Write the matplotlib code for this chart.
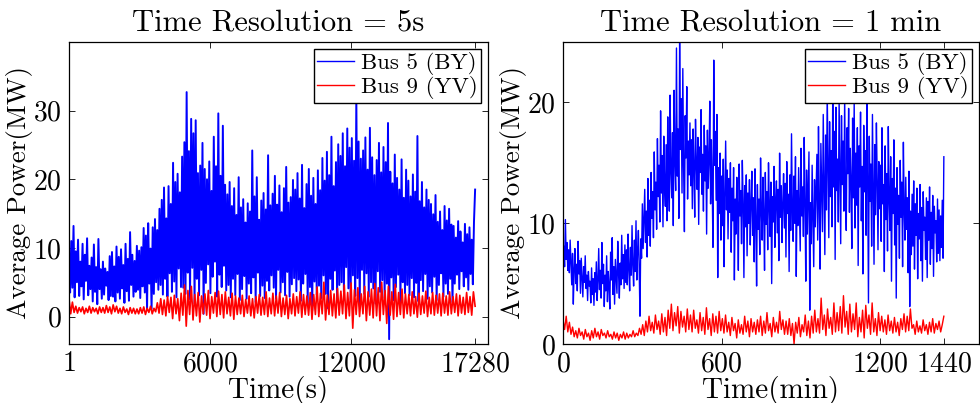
import matplotlib
matplotlib.use("Agg")
import matplotlib.pyplot as plt
import numpy as np

# Bus 5 (BY), 5 s resolution (peak/trough pairs)
bus5_5s = [
    7.0, 3.5, 11.0, 4.2, 13.2, 2.8, 9.5, 5.0, 11.2, 3.0, 8.0, 4.4, 10.6, 2.5, 9.0, 5.2, 11.4, 3.1, 7.4, 4.0,
    8.6, 2.2, 10.5, 3.6, 7.2, 1.8, 11.3, 4.0, 6.9, 2.6, 8.0, 3.2, 7.0, 4.5, 6.5, 2.4, 8.8, 3.0, 9.4, 2.9,
    7.3, 2.2, 10.2, 3.5, 8.7, 2.6, 9.8, 4.1, 7.5, 2.0, 10.6, 3.7, 8.4, 2.3, 12.3, 4.6, 9.0, 2.9, 8.1, 3.6,
    10.3, 3.9, 9.6, 2.7, 10.1, 4.4, 12.9, 3.5, 11.8, 1.0, 13.6, 4.8, 9.9, 1.1, 13.0, 3.3, 14.2, 5.0, 12.6, 3.9,
    15.7, 4.6, 17.0, 3.2, 18.8, 5.5, 14.3, 2.9, 19.0, 6.3, 16.4, 3.6, 22.4, 5.1, 19.6, 2.8, 20.8, 7.0, 18.1, 4.3,
    23.3, 4.2, 25.4, 3.3, 32.7, 6.4, 24.1, 2.5, 28.8, 7.1, 26.7, 1.9, 28.6, 5.5, 20.9, 3.1, 22.0, 6.8, 25.3, 0.4,
    21.5, 4.9, 20.0, 7.6, 22.6, 3.4, 18.3, 5.8, 26.2, 8.0, 21.9, 2.9, 29.6, 6.1, 20.5, 4.3, 27.8, 7.4, 19.2, 3.8,
    17.8, 4.6, 19.6, 2.8, 16.1, 5.5, 18.7, 3.1, 14.8, 6.2, 20.3, 2.4, 15.9, 4.0, 17.1, 5.9, 13.7, 2.6, 16.5, 4.8,
    15.3, 3.4, 24.2, 5.7, 17.5, 2.1, 20.3, 6.4, 14.1, 3.0, 16.9, 4.5, 18.0, 2.7, 15.6, 5.2, 23.5, 3.8, 16.2, 6.0,
    17.9, 4.2, 20.5, 2.6, 16.3, 6.8, 19.1, 3.5, 15.2, 5.0, 18.7, 3.1, 21.8, 6.5, 16.6, 2.9, 17.4, 4.7, 19.9, 5.6,
    18.5, 3.7, 20.9, 5.4, 17.2, 2.3, 22.1, 4.8, 15.8, 6.2, 19.3, 1.8, 21.5, 4.3, 17.6, 0.9, 20.2, 5.1, 16.4, 3.2,
    21.3, 4.5, 18.4, 2.7, 23.1, 6.0, 19.8, 3.3, 24.0, 1.2, 20.6, 5.5, 26.2, 3.9, 19.0, 6.7, 22.5, 2.2, 25.1, 4.6,
    23.4, 5.0, 26.7, 3.6, 21.9, 7.2, 27.4, 4.1, 24.6, 2.5, 26.0, 6.0, 22.7, 3.0, 32.0, 5.6, 25.5, 1.5, 23.0, 6.8,
    24.2, 3.3, 26.1, 6.3, 21.4, 2.9, 27.5, 5.0, 23.2, 4.1, 20.6, 1.9, 22.8, 6.6, 25.3, 3.6, 21.0, 5.3, 24.7, 2.7,
    22.5, 4.8, 28.2, -3.3, 21.1, 5.7, 19.4, 2.4, 23.6, 4.3, 20.2, 6.1, 18.5, 2.0, 22.9, 5.0, 17.3, 3.4, 21.4, 4.6,
    19.8, 3.1, 17.5, 5.6, 20.7, 2.8, 18.2, 4.9, 26.3, 2.2, 16.8, 5.3, 19.6, 3.7, 15.9, 6.2, 18.5, 2.6, 17.0, 4.4,
    16.4, 3.5, 14.9, 5.8, 17.7, 2.4, 13.8, 4.6, 15.3, 6.3, 12.6, 2.9, 16.1, 4.8, 14.0, 3.3, 15.7, 5.5, 13.4, 2.1,
    13.2, 4.8, 11.5, 6.1, 13.9, 4.0, 12.4, 6.6, 10.8, 4.4, 13.5, 5.7, 12.0, 3.9, 13.0, 6.2, 11.2, 4.7, 13.8, 18.5,
]

# Bus 9 (YV), 5 s resolution
bus9_5s = [
    2.6, 0.4, 2.1, 0.6, 1.5, 0.5, 1.3, 0.7, 1.4, 0.4, 1.2, 0.6, 1.5, 0.5, 1.3, 0.7, 1.2, 0.4, 1.4, 0.6,
    1.3, 0.5, 1.6, 0.6, 1.4, 0.4, 1.7, 0.7, 1.5, 0.5, 1.2, 0.4, 1.4, 0.6, 1.1, 0.3, 1.3, 0.5, 1.2, 0.4,
    1.1, 0.4, 1.3, 0.5, 1.4, 0.3, 1.2, 0.6, 1.5, 0.4, 1.2, 0.7, 2.0, 0.5, 2.6, 0.3, 2.4, 0.1, 2.9, 0.6,
    2.8, -0.3, 3.1, 0.4, 2.6, -0.6, 3.4, 0.2, 4.6, -1.4, 3.8, 0.3, 4.4, -0.5, 3.2, 0.1, 3.5, -0.8, 3.0, 0.4,
    3.3, 0.2, 3.8, -0.3, 2.9, 0.5, 3.5, 0.0, 3.7, 0.3, 3.2, -0.2, 3.6, 0.4, 2.8, 0.1, 3.4, -0.4, 3.0, 0.3,
    2.7, 0.4, 3.1, 0.0, 2.5, 0.5, 3.0, 0.1, 2.6, -0.2, 2.9, 0.5, 3.2, 0.2, 2.8, 0.3, 3.6, 0.0, 2.7, 0.4,
    3.4, 0.1, 3.0, 0.5, 3.5, 0.0, 2.7, 0.3, 3.1, -0.3, 2.6, 0.4, 3.3, 0.1, 2.9, 0.5, 3.6, -0.1, 3.2, 0.3,
    3.0, 0.2, 3.5, -0.4, 3.2, 0.3, 4.3, 0.0, 3.4, 0.4, 5.0, -0.5, 3.1, 0.3, 3.8, 0.1, 3.3, -0.2, 4.1, 0.2,
    3.7, 0.4, 4.6, -0.3, 3.5, 0.1, 4.9, -1.7, 3.9, 0.3, 4.2, 0.0, 3.3, 0.4, 4.4, -0.6, 3.6, 0.2, 4.0, -0.2,
    4.8, 0.1, 4.2, -0.6, 5.0, 0.3, 3.8, -1.0, 4.4, 0.2, 3.6, -0.4, 4.7, 0.0, 3.5, 0.3, 4.0, -0.2, 3.3, 0.4,
    3.2, 0.1, 3.6, 0.4, 2.9, -0.1, 3.4, 0.3, 3.0, 0.5, 3.7, 0.0, 2.8, 0.4, 3.5, 0.2, 3.1, 0.5, 3.3, 0.1,
    3.4, 0.5, 3.0, 0.2, 3.6, 0.4, 2.9, 0.6, 3.3, 0.1, 3.1, 0.5, 2.8, 0.3, 3.5, 0.6, 2.9, 0.2, 3.6, 1.5,
]

# Bus 5 (BY), 1 min resolution (one reading every 3 min)
bus5_1min = [
    7.2, 8.1, 6.4, 10.3, 7.0, 8.4, 6.1, 7.8, 5.9, 8.6, 6.8, 4.9, 7.5, 3.3, 6.2, 7.9, 5.0, 6.6, 4.4, 8.5,
    5.8, 6.9, 4.2, 7.1, 5.5, 3.9, 6.4, 5.1, 7.3, 4.6, 5.7, 3.6, 6.0, 4.8, 5.2, 3.4, 6.3, 4.1, 5.4, 3.2,
    5.9, 4.3, 6.8, 3.6, 5.2, 7.9, 4.5, 6.1, 3.8, 8.4, 5.0, 6.6, 3.1, 5.7, 4.4, 7.3, 3.5, 6.0, 4.8, 2.9,
    7.6, 5.3, 8.8, 4.1, 6.4, 3.3, 7.0, 5.6, 4.2, 8.5, 5.9, 3.8, 6.7, 4.9, 9.0, 5.4, 7.4, 4.6, 8.2, 5.1,
    7.8, 4.9, 9.1, 6.2, 4.4, 8.0, 5.7, 9.8, 6.5, 4.8, 8.6, 6.0, 10.2, 5.3, 7.7, 9.4, 6.3, 2.3, 8.7, 7.1,
    11.6, 7.9, 10.2, 12.8, 8.4, 11.0, 7.2, 13.7, 9.0, 11.9, 8.1, 14.2, 10.4, 12.6, 8.8, 15.9, 11.1, 13.4, 9.5, 17.0,
    12.2, 14.8, 10.1, 19.3, 12.5, 15.6, 9.7, 17.2, 13.0, 11.4, 16.5, 10.2, 18.8, 13.6, 11.0, 20.6, 14.3, 12.1, 17.5, 9.8,
    21.0, 15.2, 12.7, 24.5, 13.9, 17.8, 10.4, 25.0, 16.1, 20.3, 12.5, 22.8, 14.7, 9.3, 18.9, 15.4, 21.3, 12.0, 16.8, 14.0,
    18.3, 13.1, 16.9, 11.2, 17.8, 14.6, 10.5, 18.6, 15.0, 12.8, 17.1, 9.9, 16.3, 14.2, 19.4, 12.4, 15.7, 11.0, 18.1, 13.5,
    16.4, 9.1, 17.7, 12.9, 15.2, 20.1, 11.6, 16.9, 13.3, 8.0, 23.5, 14.8, 17.6, 11.9, 19.0, 5.5, 14.6, 10.8, 15.8, 8.6,
    13.9, 9.8, 15.3, 6.4, 12.2, 16.8, 11.1, 14.4, 8.7, 13.7, 10.9, 15.0, 7.6, 12.9, 10.2, 14.6, 5.3, 12.0, 9.1, 13.8,
    11.4, 6.1, 14.9, 10.6, 12.7, 8.3, 15.2, 11.8, 5.5, 13.1, 9.7, 14.0, 7.3, 12.5, 10.0, 13.6, 8.2, 11.7, 14.3, 9.0,
    12.1, 6.8, 14.5, 10.3, 4.8, 13.2, 9.5, 12.0, 7.4, 15.4, 11.0, 8.6, 13.8, 10.7, 6.1, 14.2, 9.9, 12.6, 7.8, 15.0,
    11.5, 8.9, 13.4, 5.0, 12.2, 10.1, 14.7, 8.0, 11.9, 13.5, 9.2, 12.8, 6.9, 15.8, 10.5, 13.1, 8.4, 11.6, 14.1, 9.6,
    13.3, 7.2, 15.1, 10.8, 12.4, 6.0, 14.0, 9.4, 17.4, 11.3, 8.5, 13.9, 10.0, 15.5, 5.6, 12.7, 9.8, 14.6, 11.2, 7.7,
    16.2, 10.6, 13.0, 8.9, 17.1, 11.8, 5.2, 14.4, 9.1, 12.3, 15.9, 2.8, 11.7, 8.3, 14.8, 10.4, 6.4, 13.6, 9.7, 12.9,
    15.7, 8.6, 18.0, 11.4, 6.2, 16.6, 12.9, 9.3, 19.0, 13.5, 7.4, 17.3, 11.1, 20.9, 14.6, 8.8, 18.4, 12.2, 16.0, 9.7,
    21.0, 13.0, 17.6, 7.0, 19.6, 12.7, 15.3, 10.1, 20.2, 14.4, 8.3, 18.9, 13.2, 16.8, 11.0, 20.5, 12.5, 9.4, 17.9, 14.1,
    19.5, 10.9, 16.2, 13.4, 7.9, 18.7, 12.1, 20.0, 9.6, 15.8, 11.5, 17.9, 6.5, 16.4, 13.0, 19.2, 10.2, 14.7, 5.8, 18.1,
    12.6, 16.0, 9.0, 20.4, 13.9, 3.4, 17.2, 11.8, 14.9, 8.1, 19.0, 12.4, 6.6, 16.5, 10.7, 18.3, 13.6, 7.8, 15.1, 11.2,
    14.8, 8.5, 17.9, 11.6, 13.2, 6.0, 16.4, 10.3, 14.1, 7.7, 18.0, 12.0, 9.4, 15.5, 5.2, 13.7, 10.8, 16.9, 8.2, 12.9,
    3.8, 14.6, 9.9, 12.3, 7.1, 15.2, 10.5, 13.4, 6.4, 16.7, 11.2, 8.6, 13.8, 9.5, 12.1, 5.9, 14.3, 3.1, 11.0, 7.4,
    12.4, 8.1, 13.5, 6.2, 11.6, 9.0, 12.9, 5.4, 10.8, 8.7, 13.2, 6.9, 11.3, 5.2, 12.6, 9.4, 10.5, 7.0, 12.1, 5.5,
    11.8, 8.6, 13.0, 6.6, 10.9, 7.9, 12.3, 5.6, 11.4, 9.2, 10.2, 6.8, 12.0, 7.5, 11.1, 6.9, 10.6, 8.0, 11.9, 7.1,
    15.5,
]

# Bus 9 (YV), 1 min resolution (one reading every 6 min)
bus9_1min = [
    2.0, 1.2, 2.3, 1.0, 1.8, 0.8, 1.4, 0.6, 1.1, 0.5, 1.3, 0.7, 1.0, 0.4, 1.2, 0.6, 0.9, 0.3, 1.1, 0.5,
    1.3, 0.6, 1.0, 0.4, 1.2, 0.7, 0.9, 0.5, 1.1, 0.6, 0.8, 0.4, 1.0, 0.5, 0.9, 0.3, 0.8, 0.5, 1.0, 0.4,
    0.9, 0.5, 0.8, 0.6, 1.1, 0.6, 0.9, 0.7, 1.3, 0.8, 1.6, 0.7, 1.9, 1.0, 2.3, 1.1, 1.8, 0.9, 2.4, 1.2,
    1.9, 0.8, 2.5, 1.0, 2.2, 0.7, 2.8, 1.3, 3.3, 1.1, 2.6, 1.5, 3.1, 0.9, 2.7, 1.4, 2.3, 1.0, 2.9, 1.2,
    2.4, 1.0, 2.8, 1.3, 2.0, 0.9, 2.6, 1.1, 2.2, 0.8, 3.0, 1.2, 2.1, 0.7, 2.5, 1.0, 2.3, 0.9, 2.7, 1.1,
    2.1, 0.9, 2.4, 1.0, 1.8, 0.7, 2.2, 1.1, 1.7, 0.5, 2.0, 0.9, 1.6, 0.8, 2.3, 1.0, 1.9, 0.6, 2.1, 1.0,
    1.8, 0.8, 2.0, 1.0, 2.3, 0.7, 1.9, 0.9, 2.6, 1.1, 1.7, 0.6, 2.2, 1.0, 1.8, 0.9, 2.7, 1.2, 2.0, 0.8,
    1.9, 0.8, 2.1, 0.7, 1.7, 0.0, 1.8, 0.9, 2.2, 0.6, 1.6, 1.0, 2.4, 0.7, 1.9, 0.5, 2.3, 0.9, 2.8, 1.0,
    2.1, 0.9, 3.8, 1.2, 2.4, 0.7, 2.9, 1.3, 2.2, 0.8, 3.4, 1.0, 2.6, 1.1, 3.1, 0.9, 4.0, 1.4, 2.7, 0.8,
    3.3, 1.0, 2.5, 1.2, 3.4, 0.6, 2.2, 1.0, 2.8, 0.5, 3.2, 1.3, 2.4, 0.8, 3.4, 1.0, 2.1, 0.7, 2.6, 1.1,
    2.3, 1.0, 2.0, 0.8, 2.4, 1.1, 1.9, 0.9, 2.2, 1.0, 1.8, 0.7, 2.1, 1.2, 2.5, 1.0, 2.3, 1.1, 2.9, 1.3,
    1.6, 0.8, 1.9, 1.0, 1.5, 0.9, 2.0, 1.1, 1.6, 0.8, 1.8, 1.0, 2.1, 0.9, 1.7, 1.2, 1.9, 1.0, 1.6, 2.3,
]

plt.rcParams["font.family"] = "serif"
plt.rcParams["font.serif"] = ["cmr10"]
plt.rcParams["mathtext.fontset"] = "cm"
plt.rcParams["axes.unicode_minus"] = False
plt.rcParams["axes.formatter.use_mathtext"] = True

FS = 20

fig = plt.figure(figsize=(9.8, 4.03), dpi=100)
ax1 = fig.add_axes([0.0704, 0.1464, 0.4276, 0.7494])
ax2 = fig.add_axes([0.5745, 0.1464, 0.4245, 0.7494])

t_5s = np.linspace(1, 17280, len(bus5_5s))
t_5s_red = np.linspace(1, 17280, len(bus9_5s))
t_1min = np.linspace(0, 1440, len(bus5_1min))
t_1min_red = np.linspace(0, 1440, len(bus9_1min))

ax1.plot(t_5s, bus5_5s, color="#0000FF", lw=1.4, label="Bus 5 (BY)")
ax1.plot(t_5s_red, bus9_5s, color="#FF0000", lw=1.2, label="Bus 9 (YV)")
ax1.set_xlim(1, 17830)
ax1.set_ylim(-4, 40)
ax1.set_xticks([1, 6000, 12000, 17280])
ax1.set_yticks([0, 10, 20, 30])
ax1.set_xlabel("Time(s)", fontsize=21, labelpad=-1)
ax1.set_ylabel("Average Power(MW)", fontsize=FS - 0.5, labelpad=0)
ax1.set_title("Time Resolution = 5s", fontsize=22, pad=8)

ax2.plot(t_1min, bus5_1min, color="#0000FF", lw=1.0, label="Bus 5 (BY)")
ax2.plot(t_1min_red, bus9_1min, color="#FF0000", lw=1.0, label="Bus 9 (YV)")
ax2.set_xlim(0, 1573)
ax2.set_ylim(0, 25)
ax2.set_xticks([0, 600, 1200, 1440])
ax2.set_yticks([0, 10, 20])
ax2.set_xlabel("Time(min)", fontsize=21, labelpad=-1)
ax2.set_ylabel("Average Power(MW)", fontsize=FS - 0.5, labelpad=0)
ax2.set_title("Time Resolution = 1 min", fontsize=22, pad=8)

for ax in (ax1, ax2):
    ax.tick_params(direction="in", top=True, right=True, length=4, width=0.6,
                   labelsize=FS, pad=5)
    for s in ax.spines.values():
        s.set_linewidth(0.9)
    leg = ax.legend(loc="upper right", fontsize=16.5, frameon=True, fancybox=False,
                    edgecolor="black", framealpha=1, borderaxespad=0.3,
                    handlelength=1.6, handletextpad=0.3, labelspacing=0.05,
                    borderpad=0.15)
    leg.get_frame().set_linewidth(1.0)
    for h in leg.get_lines():
        h.set_linewidth(1.0)

fig.savefig("out.png", dpi=100)
